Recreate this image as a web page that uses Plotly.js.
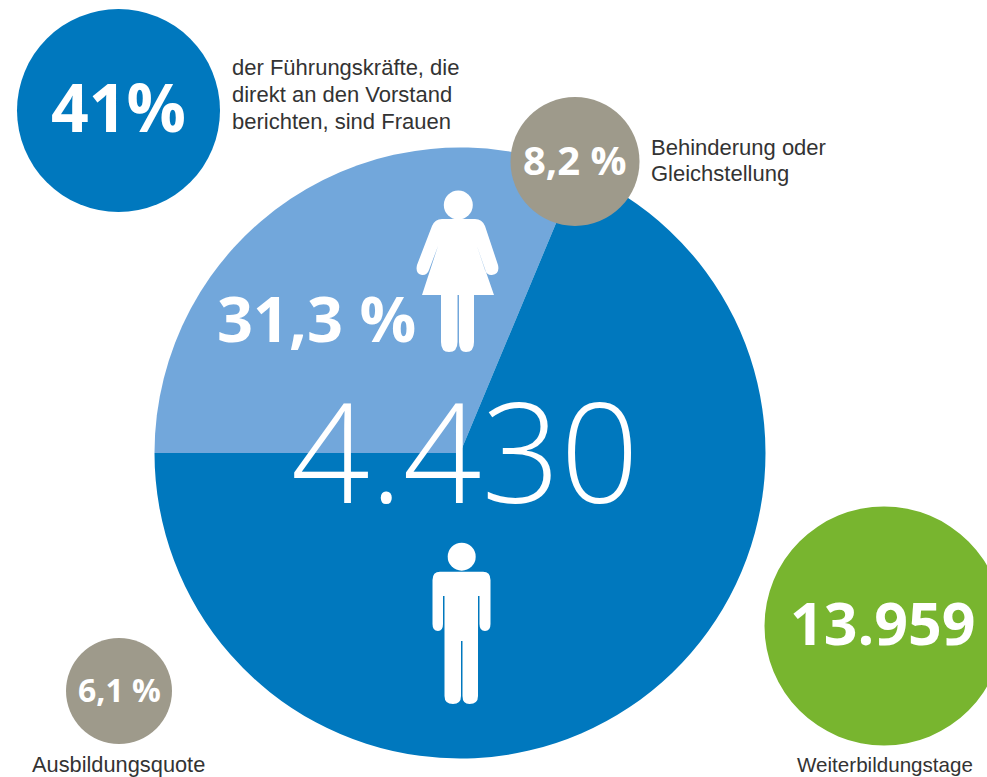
<!DOCTYPE html>
<html><head><meta charset="utf-8">
<script src="https://cdn.plot.ly/plotly-3.0.1.min.js"></script>
<style>html,body{margin:0;padding:0;background:#fff;overflow:hidden}</style>
</head><body><div id="c" style="width:987px;height:777px"></div>
<script>
const sliceLabels = ['Frauen', 'Männer'];
const sliceValues = [31.3, 68.7];
const sliceColors = ['#72A7DB', '#0078BE'];
const totalLabel = '4.430';
const womenLabel = '31,3 %';
const badgeLabels = ['41%', '8,2 %', '6,1 %', '13.959'];
const badgeColors = ['#0078BE', '#9E9A8B', '#9E9A8B', '#78B52F'];
const badgeCx = [118.5, 575, 119, 884];
const badgeCy = [110.5, 161.5, 691, 626];
const badgeR = [101.5, 64.5, 53, 119.5];
const badgeFont = [66, 40, 32, 59];
const captionLines = ['der Führungskräfte, die', 'direkt an den Vorstand', 'berichten, sind Frauen', 'Behinderung oder', 'Gleichstellung', 'Ausbildungsquote', 'Weiterbildungstage'];

const woman = 'M442,219 L475,219 Q482,219 485,226 L498,265 Q500,274 492,275 Q487,275.5 485,270 L477,246 L494,295 L474,295 L474,342 Q474,352 466,352 Q459,352 459,342 L459,295 L457.5,295 L457.5,342 Q457.5,352 449,352 Q441,352 441,342 L441,295 L422,295 L438,246 L429,270 Q427,275.5 422,275 Q415,274 417,265 L432,226 Q435,219 442,219 Z';
const man = 'M440,571.7 L483,571.7 Q490.5,571.7 490.5,580 L490.5,624 Q490.5,631 485,631 Q479.5,631 479.5,624 L479.5,596 L478,596 L478,696 Q478,704 469.5,704 Q462.5,704 462.5,696 L462.5,641 L461,641 L461,696 Q461,704 453,704 Q444.5,704 444.5,696 L444.5,596 L443,596 L443,624 Q443,631 438,631 Q432.5,631 432.5,624 L432.5,580 Q432.5,571.7 440,571.7 Z';

function circle(cx, cy, r, color) {
  return {type:'circle', xref:'x', yref:'y', x0:cx-r, x1:cx+r, y0:cy-r, y1:cy+r, fillcolor:color, line:{width:0}, layer:'above'};
}
function txt(x, y, text, size, family, color, align, weight) {
  return {xref:'x', yref:'y', x:x, y:y, text:text, showarrow:false, xanchor:align, yanchor:'middle', align:align,
          font:{size:size, family:family, color:color, weight:weight||400}};
}
const bold = '"Open Sans", "Noto Sans", sans-serif';
const body = '"Liberation Sans", Arial, sans-serif';

const shapes = badgeLabels.map((l,i)=>circle(badgeCx[i],badgeCy[i],badgeR[i],badgeColors[i]));
shapes.push(circle(458.3,205,14.5,'#fff'), circle(461.7,556.7,14,'#fff'));
[woman, man].forEach(p=>shapes.push({type:'path', xref:'x', yref:'y', path:p, fillcolor:'#fff', line:{width:0}, layer:'above'}));

const annotations = badgeLabels.map((l,i)=>txt(badgeCx[i]+[0,0,0,-1][i],badgeCy[i]+[-5,-2,-2,-4][i],l,badgeFont[i],bold,'#fff','center',700));
annotations.push(txt(316.5,317,womenLabel,63,bold,'#fff','center',700));
annotations.push(txt(464.5,449,totalLabel,138,'"Open Sans", Lato, sans-serif','#fff','center',300));
annotations.push(txt(230,67,captionLines[0],22,body,'#333','left'));
annotations.push(txt(230,94,captionLines[1],22,body,'#333','left'));
annotations.push(txt(230,121,captionLines[2],22,body,'#333','left'));
annotations.push(txt(649,147,captionLines[3],22,body,'#333','left'));
annotations.push(txt(649,173,captionLines[4],22,body,'#333','left'));
annotations.push(txt(118.5,764,captionLines[5],21.8,body,'#333','center'));
annotations.push(txt(885,764,captionLines[6],20.6,body,'#333','center'));

const traces = [
  {type:'scatter', x:[], y:[], showlegend:false, hoverinfo:'skip'},
  {type:'pie', labels:sliceLabels, values:sliceValues, sort:false, direction:'clockwise', rotation:-90,
   marker:{colors:sliceColors, line:{width:0}}, textinfo:'none', showlegend:false,
   domain:{x:[(460-305.5)/987,(460+305.5)/987], y:[1-(453+305.5)/777,1-(453-305.5)/777]}}
];
Plotly.newPlot('c', traces, {
  width:987, height:777, margin:{l:0,r:0,t:0,b:0,pad:0}, paper_bgcolor:'#fff', plot_bgcolor:'rgba(0,0,0,0)',
  showlegend:false,
  xaxis:{range:[0,987], visible:false, fixedrange:true},
  yaxis:{range:[777,0], visible:false, fixedrange:true},
  shapes:shapes, annotations:annotations
}, {displayModeBar:false, staticPlot:true});
</script></body></html>
